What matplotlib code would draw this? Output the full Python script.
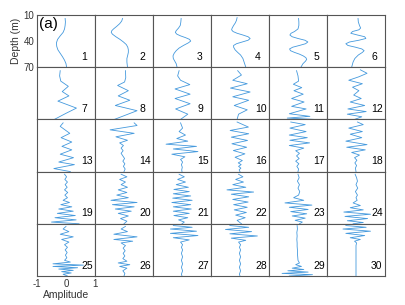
import matplotlib
matplotlib.use('Agg')
import matplotlib.pyplot as plt

plt.rcParams['font.family'] = ['Liberation Sans', 'DejaVu Sans']
plt.rcParams['axes.unicode_minus'] = False

depth_ticks = [10, 40, 70]
amp_ticks = [-1, 0, 1]

# depth (m) / amplitude pairs
d1 = [14, 18, 22, 26, 30, 34, 38, 42, 46, 50, 54, 58, 62, 66, 70]
a1 = [-0.03, -0.02, -0.03, -0.05, -0.1, -0.2, -0.29, -0.33, -0.32, -0.28, -0.2, -0.12, -0.05, 0.0, 0.02]
d2 = [14, 17, 20, 23, 26, 28, 30, 32, 35, 38, 41, 44, 47, 50, 53, 56, 60, 64, 70]
a2 = [-0.05, -0.08, -0.15, -0.25, -0.36, -0.42, -0.44, -0.4, -0.28, -0.14, -0.02, 0.08, 0.13, 0.15, 0.15, 0.13, 0.1, 0.1, 0.12]
d3 = [14, 18, 22, 25, 28, 30, 32, 34, 36, 38, 40, 42, 45, 48, 51, 54, 57, 60, 63, 66, 70]
a3 = [-0.03, -0.04, -0.06, -0.12, -0.2, -0.23, -0.18, -0.05, 0.12, 0.26, 0.3, 0.22, 0.05, -0.1, -0.2, -0.27, -0.31, -0.3, -0.25, -0.2, -0.17]
d4 = [13, 16, 19, 22, 25, 27, 29, 31, 33, 35, 37, 39, 41, 43, 45, 47, 50, 53, 56, 60, 64, 70]
a4 = [-0.10, -0.12, -0.16, -0.22, -0.27, -0.29, -0.24, -0.1, 0.1, 0.28, 0.35, 0.28, 0.08, -0.12, -0.22, -0.22, -0.17, -0.08, 0.02, 0.1, 0.14, 0.2]
d5 = [14, 18, 22, 26, 29, 31, 33, 35, 37, 39, 41, 43, 45, 47, 49, 51, 53, 55, 57, 59, 61, 63, 66, 70]
a5 = [0.02, 0.03, 0.03, 0.0, -0.12, -0.24, -0.28, -0.2, 0.0, 0.24, 0.34, 0.26, 0.05, -0.18, -0.29, -0.26, -0.12, 0.05, 0.18, 0.27, 0.30, 0.26, 0.17, 0.1]
d6 = [14, 18, 22, 25, 27, 29, 31, 33, 35, 37, 39, 41, 43, 45, 47, 49, 51, 53, 56, 60, 64, 70]
a6 = [0.07, 0.08, 0.12, 0.16, 0.1, -0.12, -0.18, 0.05, 0.3, 0.34, 0.1, -0.22, -0.35, -0.28, -0.02, 0.2, 0.28, 0.22, 0.08, -0.04, -0.1, -0.15]

d7 = [14, 20, 26, 32, 38, 43, 49, 57, 63, 70]
a7 = [-0.2, -0.22, -0.18, 0.08, -0.13, 0.1, -0.28, 0.36, 0.0, -0.4]
d8 = [14, 22, 27, 31, 37, 43, 48, 54, 60, 70]
a8 = [0.05, 0.06, 0.02, -0.22, 0.15, -0.2, 0.2, -0.3, 0.45, -0.33]
d9 = [14, 20, 25, 30, 35, 41, 46, 52, 58, 64, 70]
a9 = [-0.1, -0.15, -0.05, 0.27, -0.24, 0.28, -0.24, 0.28, -0.22, 0.2, -0.05]
d10 = [14, 19, 25, 29, 34, 38.5, 44, 48, 54, 59, 64, 70]
a10 = [-0.08, 0.05, -0.25, 0.25, -0.33, 0.35, -0.25, 0.3, -0.2, 0.25, -0.05, -0.1]
d11 = [14, 20, 26, 29.6, 33.5, 37, 41, 46, 50, 55, 58, 63.5, 66.5, 68.5, 70]
a11 = [-0.05, 0.0, 0.02, -0.16, 0.13, -0.14, 0.18, -0.22, 0.21, -0.22, 0.28, -0.3, 0.41, -0.37, 0.55]
d12 = [13, 17, 21, 25, 29, 33, 37, 42, 46, 50, 54, 58, 61, 64, 67, 70]
a12 = [0.15, 0.38, 0.1, -0.25, 0.22, -0.12, 0.1, -0.08, 0.18, -0.2, 0.3, -0.28, 0.35, -0.3, 0.2, -0.05]

d13 = [14, 18, 26, 31, 36, 41, 45, 50, 54, 59, 62, 66.5, 70]
a13 = [-0.1, -0.2, 0.13, -0.17, 0.2, -0.14, 0.2, -0.2, 0.26, -0.25, 0.29, -0.42, 0.15]
d14 = [14, 17, 22, 26, 30, 34, 37, 40, 43, 46, 49, 52, 55, 58, 61, 64, 67, 70]
a14 = [0.35, 0.45, -0.48, 0.35, -0.28, 0.12, -0.15, -0.02, -0.1, -0.03, -0.1, -0.04, 0.02, -0.04, 0.03, -0.02, 0.04, 0.0]
d15 = [14, 20, 24, 28, 32, 35, 38.5, 41, 44, 47, 50, 53, 56, 59, 62, 65, 68, 70]
a15 = [-0.05, 0.02, -0.1, 0.12, -0.18, 0.2, -0.55, 0.5, -0.3, 0.55, -0.35, 0.1, -0.05, 0.02, -0.02, 0.01, -0.01, 0.0]
d16 = [13, 18.8, 22.7, 26.5, 30.4, 34.2, 38, 42, 45.8, 49.6, 53.5, 57.3, 60, 62, 64, 66, 68, 70]
a16 = [-0.1, 0.29, -0.34, 0.3, -0.3, 0.26, -0.28, 0.23, -0.23, 0.17, -0.17, 0.08, -0.06, 0.04, -0.05, 0.03, -0.03, 0.0]
d17 = [13, 16, 20, 24, 28, 31, 34, 37, 40, 43, 46, 49, 52, 55, 58, 61, 64, 67, 70]
a17 = [-0.25, 0.25, -0.28, 0.28, -0.3, 0.32, -0.28, 0.4, -0.3, 0.2, -0.08, 0.05, -0.05, 0.04, -0.08, 0.03, -0.04, 0.02, 0.0]
d18 = [13, 16, 20, 24, 27, 31, 35, 39, 42, 45, 48, 51, 54, 57, 60, 63, 66, 70]
a18 = [0.05, 0.25, -0.25, 0.22, -0.2, 0.2, -0.35, 0.38, -0.32, 0.32, -0.15, 0.12, -0.05, 0.03, -0.04, 0.02, -0.02, 0.0]

d19 = [13, 16, 19, 22, 25, 28, 31, 34, 37, 40, 43, 45.5, 48, 50.5, 53, 55.5, 58, 60.5, 63, 65.5, 68, 70]
a19 = [-0.05, 0.02, -0.04, 0.05, -0.03, 0.04, -0.05, 0.06, -0.04, 0.05, -0.1, 0.12, -0.18, 0.2, -0.25, 0.25, -0.3, 0.32, -0.38, 0.35, -0.5, 0.45]
d20 = [13, 16, 19, 22, 25, 28, 31, 34, 37, 40, 43, 45.5, 48, 50.5, 53, 55.5, 58, 61, 64, 67, 70]
a20 = [-0.1, 0.1, -0.15, 0.05, -0.1, 0.12, -0.2, 0.1, -0.25, 0.15, -0.45, 0.45, -0.4, 0.35, -0.3, 0.25, -0.2, 0.15, -0.12, 0.1, 0.0]
d21 = [13, 16, 19, 22, 25, 28, 30.5, 33, 35.5, 38, 40.5, 43, 45.5, 48, 50.5, 53, 55.5, 58, 60.5, 63, 65.5, 68, 70]
a21 = [-0.1, 0.08, -0.15, 0.12, -0.2, 0.22, -0.28, 0.25, -0.3, 0.3, -0.32, 0.35, -0.35, 0.3, -0.3, 0.32, -0.3, 0.25, -0.28, 0.2, -0.12, 0.08, 0.0]
d22 = [13, 16, 19, 22, 25, 28, 31, 33.5, 36, 39, 42, 45, 48, 51, 54, 57, 60, 63, 66, 70]
a22 = [-0.05, 0.1, -0.15, 0.12, -0.25, 0.2, -0.45, 0.47, -0.3, 0.3, -0.25, 0.28, -0.22, 0.25, -0.2, 0.22, -0.15, 0.18, -0.1, 0.05]
d23 = [13, 17, 21, 25, 29, 33, 37, 40, 43, 46, 48.5, 51, 53.5, 56, 58.5, 61, 63.5, 66, 68, 70]
a23 = [0.0, 0.04, -0.02, 0.05, 0.0, 0.06, 0.02, -0.15, 0.2, -0.45, 0.48, -0.3, 0.35, -0.25, 0.3, -0.2, 0.25, -0.1, 0.15, 0.05]
d24 = [13, 17, 21, 25, 29, 33, 37, 40, 43, 46, 49, 51.5, 54, 56.5, 59, 61.5, 64, 66.5, 68.5, 70]
a24 = [-0.03, 0.02, 0.05, 0.0, 0.06, -0.02, 0.05, 0.0, 0.04, -0.1, 0.15, -0.2, 0.25, -0.42, 0.5, -0.38, 0.4, -0.3, 0.25, -0.1]

d25 = [13, 16, 19, 22, 25, 28, 31, 34, 37, 40, 43, 46, 49, 52, 54, 56, 57.5, 59, 60.5, 62, 63.5, 65, 66.5, 68, 70]
a25 = [0.0, -0.1, 0.1, -0.2, 0.25, -0.15, 0.1, -0.05, 0.05, -0.03, 0.04, -0.02, 0.03, -0.05, 0.15, -0.45, 0.6, -0.45, 0.4, -0.25, 0.25, -0.15, 0.18, -0.1, 0.05]
d26 = [13, 16, 19, 22, 25, 28, 30, 32, 35, 38, 41, 44, 47, 50, 53, 55, 57, 59, 61, 64, 67, 70]
a26 = [0.05, -0.1, 0.12, -0.35, 0.45, -0.35, 0.3, -0.1, 0.05, -0.03, 0.04, -0.03, 0.03, -0.04, 0.1, -0.2, 0.2, -0.15, 0.1, -0.04, 0.03, 0.0]
d27 = [12, 14, 16, 18.5, 21, 23.5, 26, 28.5, 31, 34, 37, 40, 44, 48, 52, 56, 60, 64, 68, 70]
a27 = [-0.3, 0.35, -0.4, 0.5, -0.4, 0.55, -0.3, 0.25, -0.05, 0.02, -0.02, 0.02, -0.02, 0.02, -0.02, 0.02, -0.02, 0.02, -0.02, 0.0]
d28 = [12, 14, 16.5, 19, 21.5, 24, 26.5, 29, 31, 34, 37, 40, 44, 48, 52, 56, 60, 64, 68, 70]
a28 = [-0.35, 0.3, -0.5, 0.4, -0.35, 0.6, -0.3, 0.2, -0.05, 0.02, -0.02, 0.02, -0.02, 0.02, -0.02, 0.02, -0.02, 0.02, -0.02, 0.0]
d29 = [12, 16, 20, 24, 28, 32, 36, 40, 44, 48, 52, 55, 57, 59, 61, 62.5, 64, 65.5, 67, 68.5, 70]
a29 = [-0.03, -0.02, -0.04, -0.03, -0.04, -0.03, -0.03, -0.02, -0.02, -0.01, 0.0, 0.05, -0.08, 0.12, -0.2, 0.2, -0.35, 0.35, -0.55, 0.5, -0.3]
d30 = [12, 14, 16, 18.5, 21, 23.5, 26, 28, 30, 32, 35, 40, 45, 50, 55, 60, 65, 70]
a30 = [-0.35, 0.35, -0.45, 0.5, -0.35, 0.3, -0.2, 0.15, -0.05, 0.02, 0.0, 0.0, 0.0, 0.0, 0.0, 0.0, 0.0, 0.0]

modes = [(d1, a1), (d2, a2), (d3, a3), (d4, a4), (d5, a5), (d6, a6),
         (d7, a7), (d8, a8), (d9, a9), (d10, a10), (d11, a11), (d12, a12),
         (d13, a13), (d14, a14), (d15, a15), (d16, a16), (d17, a17), (d18, a18),
         (d19, a19), (d20, a20), (d21, a21), (d22, a22), (d23, a23), (d24, a24),
         (d25, a25), (d26, a26), (d27, a27), (d28, a28), (d29, a29), (d30, a30)]
labels = [str(i + 1) for i in range(len(modes))]

fig, axes = plt.subplots(5, 6, figsize=(4.06, 3.05), dpi=100, sharex=True, sharey=True)
fig.subplots_adjust(left=37 / 406, right=385 / 406, top=1 - 15 / 305,
                    bottom=1 - 276 / 305, wspace=0, hspace=0)

for i, ax in enumerate(axes.flat):
    d, a = modes[i]
    ax.plot(a, d, color='#4499dd', lw=0.6)
    ax.text(0.76, 0.2, labels[i], transform=ax.transAxes, fontsize=7.5,
            ha='left', va='center')
    for s in ax.spines.values():
        s.set_color('#555555')
        s.set_linewidth(0.8)
    ax.tick_params(length=0, labelsize=7, pad=2, labelcolor='#333333')

ax0 = axes[0, 0]
ax0.set_xlim(-1, 1)
ax0.set_ylim(70, 10)
ax0.set_yticks(depth_ticks)
ax0.set_xticks(amp_ticks)
for ax in axes.flat:
    ax.tick_params(labelleft=False, labelbottom=False)
axes[0, 0].tick_params(labelleft=True)
axes[4, 0].tick_params(labelbottom=True)
axes[0, 0].set_ylabel('Depth (m)', fontsize=7.5, labelpad=2, color='#333333')
axes[4, 0].set_xlabel('Amplitude', fontsize=7.5, labelpad=1, color='#333333')
axes[0, 0].text(0.03, 0.82, '(a)', transform=axes[0, 0].transAxes,
                fontsize=11, ha='left', va='center')

fig.savefig('out.png', dpi=100)
